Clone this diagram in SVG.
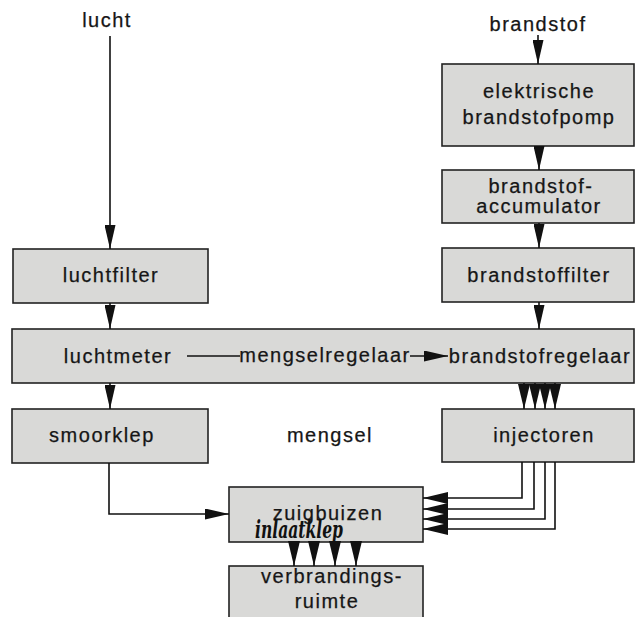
<svg xmlns="http://www.w3.org/2000/svg" width="635" height="617" viewBox="0 0 635 617">
<style>
.box{fill:#d9d9d7;stroke:#222;stroke-width:1.6}
.t{font-family:"Liberation Sans",Arial,sans-serif;font-size:20px;letter-spacing:1.5px;fill:#161616;stroke:#161616;stroke-width:0.25;text-anchor:middle}
.c{fill:none;stroke:#111;stroke-width:1.6}
.hand{font-family:"DejaVu Serif","Liberation Serif",serif;font-style:italic;font-weight:bold;font-size:24px;fill:#111}
</style>
<defs>
<marker id="ah" markerUnits="userSpaceOnUse" markerWidth="24" markerHeight="11" refX="24" refY="5.5" orient="auto">
<path d="M0,0 L24,5.5 L0,11 z" fill="#111"/>
</marker>
<marker id="aw" markerUnits="userSpaceOnUse" markerWidth="25" markerHeight="12" refX="25" refY="6" orient="auto">
<path d="M0,0 L25,6 L0,12 z" fill="#111"/>
</marker>
</defs>
<rect width="635" height="617" fill="#fff"/>

<g id="lucht"><text class="t" x="107" y="27">lucht</text></g>
<g id="brandstof"><text class="t" x="538" y="31">brandstof</text></g>

<g id="luchtfilter"><rect class="box" x="13" y="249" width="195" height="54"/><text class="t" x="111" y="282">luchtfilter</text></g>
<g id="pomp"><rect class="box" x="442" y="64" width="192" height="82"/><text class="t" x="539" y="98">elektrische</text><text class="t" x="539" y="124">brandstofpomp</text></g>
<g id="accumulator"><rect class="box" x="442" y="170" width="192" height="53"/><text class="t" x="541" y="193">brandstof-</text><text class="t" x="539" y="213">accumulator</text></g>
<g id="brandstoffilter"><rect class="box" x="442" y="248" width="192" height="54"/><text class="t" x="539" y="282">brandstoffilter</text></g>
<g id="regelband"><rect class="box" x="12" y="329" width="622" height="54"/>
<text class="t" x="118" y="363">luchtmeter</text>
<text class="t" x="325" y="362">mengselregelaar</text>
<text class="t" x="540" y="363">brandstofregelaar</text></g>
<g id="smoorklep"><rect class="box" x="12" y="409" width="196" height="54"/><text class="t" x="102" y="442">smoorklep</text></g>
<g id="mengsel"><text class="t" x="330" y="442">mengsel</text></g>
<g id="injectoren"><rect class="box" x="442" y="409" width="192" height="53"/><text class="t" x="544" y="442">injectoren</text></g>
<g id="zuigbuizen"><rect class="box" x="229" y="487" width="194" height="55"/><text class="t" x="328" y="520">zuigbuizen</text></g>
<g id="verbrandingsruimte"><rect class="box" x="229" y="566" width="194" height="60"/><text class="t" x="332" y="583">verbrandings-</text><text class="t" x="327" y="608">ruimte</text></g>

<g id="connectors">
<path class="c" d="M110,36 V249" marker-end="url(#ah)"/>
<path class="c" d="M110,303 V329" marker-end="url(#ah)"/>
<path class="c" d="M110,383 V409" marker-end="url(#ah)"/>
<path class="c" d="M538,35 V64" marker-end="url(#ah)"/>
<path class="c" d="M539,146 V170" marker-end="url(#ah)"/>
<path class="c" d="M539,223 V248" marker-end="url(#ah)"/>
<path class="c" d="M539,302 V329" marker-end="url(#ah)"/>
<path class="c" d="M187,356 H240"/>
<path class="c" d="M410,356 H448" marker-end="url(#ah)"/>
<path class="c" d="M524,383 V409" marker-end="url(#aw)"/>
<path class="c" d="M535,383 V409" marker-end="url(#aw)"/>
<path class="c" d="M545,383 V409" marker-end="url(#aw)"/>
<path class="c" d="M555,383 V409" marker-end="url(#aw)"/>
<path class="c" d="M109,463 V514 H229" marker-end="url(#ah)"/>
<path class="c" d="M522,462 V498 H423" marker-end="url(#aw)"/>
<path class="c" d="M534,462 V509 H423" marker-end="url(#aw)"/>
<path class="c" d="M545,462 V519 H423" marker-end="url(#aw)"/>
<path class="c" d="M555,462 V529 H423" marker-end="url(#aw)"/>
<path class="c" d="M294,542 V566" marker-end="url(#aw)"/>
<path class="c" d="M314,542 V566" marker-end="url(#aw)"/>
<path class="c" d="M335,542 V566" marker-end="url(#aw)"/>
<path class="c" d="M356,542 V566" marker-end="url(#aw)"/>
</g>

<g id="scribble"><text class="hand" x="255" y="538" textLength="88" lengthAdjust="spacingAndGlyphs">inlaatklep</text></g>
</svg>
